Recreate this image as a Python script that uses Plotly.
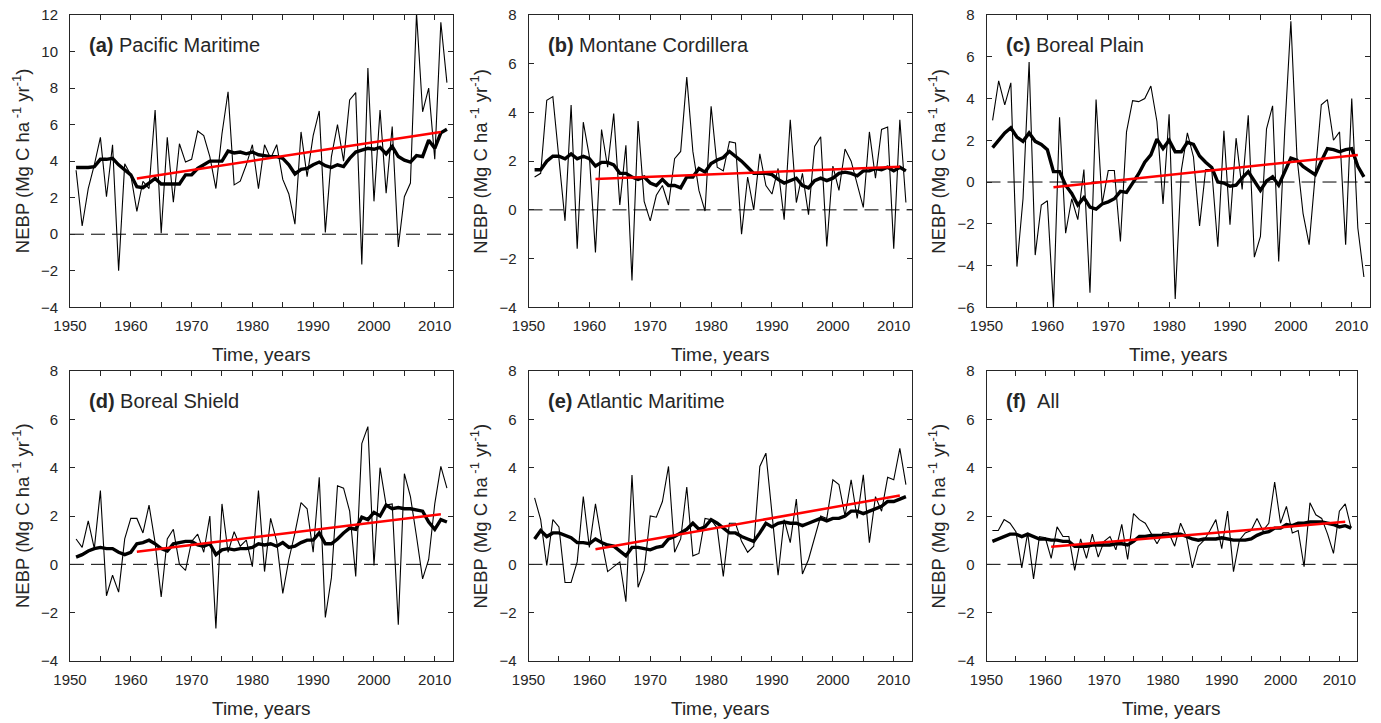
import plotly.graph_objects as go

# Years of the annual NEBP series
years = list(range(1951, 2013))
trend_years = [1961, 2011]

# (a) Pacific Maritime
pacific_annual = [3.5, 0.45, 2.5, 3.8, 5.3, 2.05, 4.9, -2.0, 3.85, 3.25,
                  1.25, 2.9, 2.5, 6.8, 0.05, 5.3, 1.75, 4.95, 3.95, 4.1,
                  5.65, 5.4, 4.25, 2.5, 5.5, 7.8, 2.7, 2.9, 3.8, 4.9,
                  2.5, 4.9, 4.15, 4.9, 3.0, 2.2, 0.55, 5.6, 3.15, 5.4,
                  6.75, 0.1, 4.25, 6.0, 4.0, 7.35, 7.75, -1.65, 9.1, 1.8,
                  6.8, 2.25, 5.9, -0.7, 2.05, 2.8, 12.1, 6.7, 8.0, 4.1,
                  11.6, 8.3]
pacific_smooth = [3.65, 3.65, 3.65, 3.7, 4.1, 4.1, 4.15, 3.8, 3.5, 3.25,
                  2.6, 2.55, 2.8, 3.05, 2.75, 2.75, 2.75, 2.75, 3.25, 3.25,
                  3.6, 3.8, 4.0, 4.0, 4.0, 4.55, 4.45, 4.5, 4.4, 4.5,
                  4.35, 4.3, 4.25, 4.25, 4.15, 3.8, 3.3, 3.55, 3.6, 3.8,
                  3.95, 3.75, 3.65, 3.8, 3.7, 4.15, 4.5, 4.6, 4.7, 4.65,
                  4.75, 4.4, 4.8, 4.25, 4.05, 3.95, 4.3, 4.25, 5.15, 4.7,
                  5.55, 5.75]
pacific_trend = [3.05, 5.6]

# (b) Montane Cordillera
montane_annual = [1.35, 1.5, 4.5, 4.65, 2.1, -0.45, 4.3, -1.6, 3.6, 2.2,
                  -1.75, 3.3, 1.75, 3.95, 0.2, 2.65, -2.9, 3.65, 0.35, -0.45,
                  0.6, 1.0, 0.2, 2.1, 2.4, 5.45, 2.4, 0.8, -0.05, 4.25,
                  1.75, 1.6, 2.8, 2.75, -1.0, 1.35, 0.0, 2.3, 1.0, 0.65,
                  1.7, -0.4, 3.7, 0.3, 1.5, -0.2, 2.6, 3.0, -1.5, 1.8,
                  0.8, 2.5, 2.0, 1.0, 0.1, 3.2, 1.3, 3.3, 3.4, -1.6,
                  3.7, 0.3]
montane_smooth = [1.65, 1.65, 2.0, 2.2, 2.2, 2.1, 2.3, 2.1, 2.2, 2.1,
                  1.8, 1.95, 1.95, 1.85, 1.5, 1.5, 1.35, 1.25, 1.35, 1.1,
                  1.0, 1.25, 1.0, 1.0, 0.9, 1.35, 1.35, 1.7, 1.55, 1.9,
                  2.05, 2.15, 2.4, 2.2, 2.0, 1.75, 1.5, 1.5, 1.5, 1.45,
                  1.25, 1.1, 1.2, 1.3, 1.0, 0.9, 1.2, 1.3, 1.2, 1.3,
                  1.5, 1.55, 1.5, 1.4, 1.6, 1.6, 1.7, 1.65, 1.75, 1.6,
                  1.75, 1.6]
montane_trend = [1.27, 1.77]

# (c) Boreal Plain
plain_annual = [2.95, 4.85, 3.7, 4.75, -4.05, -0.8, 5.75, -3.5, -1.1, -0.9,
                -6.0, 3.1, -2.45, -0.8, -1.8, 0.6, -5.3, 3.95, -1.05, 0.55,
                0.55, -2.85, 2.4, 3.9, 3.85, 4.0, 4.6, 2.9, -1.05, 3.25,
                -5.6, 0.55, 2.35, 1.2, -2.1, 0.6, 0.6, -3.1, 2.45, -2.05,
                2.1, -0.35, 3.2, -3.6, -2.6, 2.55, 3.65, -3.8, 2.5, 7.7,
                1.2, -1.5, -3.0, 0.5, 3.7, 3.95, 2.0, 2.4, -3.0, 4.0,
                -2.2, -4.55]
plain_smooth = [1.65, 2.0, 2.35, 2.6, 2.15, 1.95, 2.35, 1.95, 1.8, 1.55,
                0.5, 0.5, -0.15, -0.55, -1.1, -0.75, -1.2, -1.3, -1.05, -0.95,
                -0.8, -0.45, -0.5, -0.05, 0.4, 0.95, 1.3, 2.05, 1.6, 2.0,
                1.45, 1.45, 1.9, 1.8, 1.25, 0.95, 0.7, 0.0, -0.05, -0.2,
                -0.15, 0.2, 0.5, 0.05, -0.4, 0.05, 0.25, -0.15, 0.5, 1.15,
                1.05, 0.75, 0.55, 0.35, 1.0, 1.6, 1.55, 1.45, 1.55, 1.6,
                0.75, 0.25]
plain_trend = [-0.25, 1.3]

# (d) Boreal Shield
shield_annual = [1.05, 0.7, 1.8, 0.65, 3.05, -1.3, -0.45, -1.15, 1.05, 1.9,
                 1.9, 1.3, 2.45, 0.9, -1.35, 1.05, 1.45, 0.0, -0.25, 0.95,
                 1.25, 0.5, 2.0, -2.65, 2.5, 0.5, 1.35, 0.75, 1.0, -0.1,
                 3.05, -0.3, 1.9, 0.95, -1.2, 0.2, 1.3, 2.55, 2.3, 0.5,
                 3.6, -2.2, -0.55, 3.25, 3.15, 2.2, -0.5, 5.0, 5.7, -0.05,
                 4.0, 2.45, 2.5, -2.5, 3.75, 2.8, 1.15, -0.6, 0.2, 2.5,
                 4.05, 3.15]
shield_smooth = [0.3, 0.4, 0.55, 0.65, 0.7, 0.65, 0.65, 0.5, 0.4, 0.5,
                 0.85, 0.9, 1.0, 0.85, 0.65, 0.55, 0.85, 0.9, 0.95, 0.95,
                 0.8, 0.75, 0.85, 0.4, 0.6, 0.65, 0.6, 0.65, 0.65, 0.7,
                 0.85, 0.8, 0.85, 0.75, 0.9, 0.7, 0.75, 0.9, 1.0, 1.0,
                 1.3, 0.85, 0.85, 1.05, 1.3, 1.5, 1.45, 1.95, 1.85, 2.15,
                 2.0, 2.45, 2.3, 2.35, 2.3, 2.3, 2.25, 2.2, 1.75, 1.45,
                 1.85, 1.75]
shield_trend = [0.52, 2.07]

# (e) Atlantic Maritime
atlantic_annual = [2.75, 1.85, -0.05, 1.85, 1.55, -0.75, -0.75, 0.1, 2.8, 0.7,
                   2.5, 1.0, -0.3, -0.1, 0.1, -1.55, 3.7, -0.95, -0.25, 2.0,
                   1.95, 2.6, 4.05, 0.5, 1.05, 3.2, 0.35, 0.45, 1.9, 1.85,
                   1.5, -0.5, 1.7, 1.7, 0.95, 0.5, 0.75, 4.05, 4.6, 2.1,
                   -0.45, 1.85, 0.9, 2.7, -0.4, 0.2, 1.1, 2.0, 1.9, 3.5,
                   3.3, 2.0, 3.5, 1.9, 3.7, 0.9, 2.8, 2.2, 3.6, 3.5,
                   4.8, 3.3]
atlantic_smooth = [1.05, 1.4, 1.15, 1.3, 1.3, 1.2, 1.1, 0.9, 0.9, 0.85,
                   1.05, 0.9, 0.8, 0.75, 0.55, 0.35, 0.7, 0.7, 0.65, 0.6,
                   0.7, 0.75, 1.05, 1.15, 1.3, 1.45, 1.7, 1.45, 1.55, 1.85,
                   1.7, 1.5, 1.3, 1.3, 1.15, 1.05, 0.95, 1.3, 1.7, 1.55,
                   1.7, 1.75, 1.7, 1.7, 1.6, 1.7, 1.8, 1.9, 1.8, 1.9,
                   1.9, 2.0, 2.2, 2.2, 2.1, 2.2, 2.3, 2.4, 2.6, 2.6,
                   2.7, 2.8]
atlantic_trend = [0.62, 2.85]

# (f) All ecozones
all_annual = [1.4, 1.4, 1.85, 1.7, 1.35, -0.15, 1.3, -0.6, 1.15, 1.1,
              0.25, 1.55, 1.15, 1.15, -0.25, 1.05, 0.25, 1.25, 0.3, 0.95,
              1.15, 0.6, 1.65, 0.2, 2.1, 1.85, 1.7, 1.3, 0.85, 1.3,
              1.3, 0.75, 1.7, 1.15, -0.15, 0.75, 1.0, 1.4, 1.85, 0.65,
              2.2, -0.3, 1.0, 1.3, 1.4, 1.9, 1.4, 1.7, 3.4, 1.7,
              2.4, 1.3, 1.4, -0.1, 2.55, 2.05, 1.9, 1.25, 0.45, 2.2,
              2.5, 1.5]
all_smooth = [0.95, 1.05, 1.15, 1.25, 1.25, 1.15, 1.25, 1.15, 1.05, 1.05,
              1.0, 1.0, 0.95, 0.95, 0.75, 0.75, 0.75, 0.8, 0.8, 0.8,
              0.8, 0.85, 0.85, 0.8, 0.95, 1.15, 1.15, 1.2, 1.2, 1.2,
              1.2, 1.25, 1.25, 1.15, 1.05, 1.0, 1.05, 1.05, 1.05, 1.1,
              1.05, 1.0, 1.0, 1.0, 1.05, 1.2, 1.3, 1.35, 1.5, 1.5,
              1.65, 1.6, 1.7, 1.7, 1.75, 1.75, 1.75, 1.7, 1.65, 1.55,
              1.6, 1.5]
all_trend = [0.73, 1.76]

panels = [
    ("(a)", "Pacific Maritime", pacific_annual, pacific_smooth, pacific_trend, [-4, 12]),
    ("(b)", "Montane Cordillera", montane_annual, montane_smooth, montane_trend, [-4, 8]),
    ("(c)", "Boreal Plain", plain_annual, plain_smooth, plain_trend, [-6, 8]),
    ("(d)", "Boreal Shield", shield_annual, shield_smooth, shield_trend, [-4, 8]),
    ("(e)", "Atlantic Maritime", atlantic_annual, atlantic_smooth, atlantic_trend, [-4, 8]),
    ("(f)", "&nbsp;All", all_annual, all_smooth, all_trend, [-4, 8]),
]

W, H = 1381, 723
# pixel boxes of each axes: (left, right, top, bottom)
boxes = [
    (70, 453, 15, 307.3),
    (528.5, 912, 15, 307.3),
    (986.5, 1370, 15, 307.3),
    (70, 453, 371, 661),
    (528.5, 912, 371, 661),
    (986.5, 1357, 371, 661),
]

INK = "#262626"
FONT = "Liberation Sans"

fig = go.Figure()
layout_axes = {}
annotations = []
shapes = []

for i, ((tag, name, annual, smooth, trend, yr), (l, r, t, b)) in enumerate(zip(panels, boxes), start=1):
    xa = "x" if i == 1 else f"x{i}"
    ya = "y" if i == 1 else f"y{i}"

    fig.add_trace(go.Scatter(x=years, y=annual, mode="lines", xaxis=xa, yaxis=ya,
                             line=dict(color="black", width=1.1), showlegend=False,
                             hoverinfo="skip"))
    fig.add_trace(go.Scatter(x=years, y=smooth, mode="lines", xaxis=xa, yaxis=ya,
                             line=dict(color="black", width=3.4), showlegend=False,
                             hoverinfo="skip"))
    fig.add_trace(go.Scatter(x=trend_years, y=trend, mode="lines", xaxis=xa, yaxis=ya,
                             line=dict(color="#ff0000", width=2.5), showlegend=False,
                             hoverinfo="skip"))

    common = dict(showline=True, linecolor=INK, linewidth=1, mirror="allticks",
                  ticks="inside", ticklen=5, tickwidth=1, tickcolor=INK,
                  showgrid=False, zeroline=False,
                  tickfont=dict(family=FONT, size=15, color=INK))
    layout_axes["xaxis" if i == 1 else f"xaxis{i}"] = dict(
        common, domain=[l / W, r / W], anchor=ya, range=[1950, 2013],
        tickvals=list(range(1950, 2011, 10)),
        minor=dict(tickvals=list(range(1955, 2011, 10)), ticks="inside",
                   ticklen=5, tickcolor=INK, showgrid=False),
        ticklabelstandoff=5)
    layout_axes["yaxis" if i == 1 else f"yaxis{i}"] = dict(
        common, domain=[1 - b / H, 1 - t / H], anchor=xa, range=yr,
        tickvals=list(range(yr[0], yr[1] + 1, 2)), ticklabelstandoff=8)

    shapes.append(dict(type="line", xref=f"{xa} domain", x0=0, x1=1,
                       yref=ya, y0=0, y1=0, layer="below",
                       line=dict(color="black", width=1, dash="14px,7px")))

    annotations.append(dict(text=f"<b>{tag}</b> {name}", xref="paper", yref="paper",
                            x=(l + 17) / W, y=1 - (t + 30) / H, xanchor="left",
                            yanchor="middle", showarrow=False,
                            font=dict(family=FONT, size=20, color=INK)))
    annotations.append(dict(text="Time, years", xref="paper", yref="paper",
                            x=(l + r) / 2 / W, y=1 - (b + 47) / H, xanchor="center",
                            yanchor="middle", showarrow=False,
                            font=dict(family=FONT, size=19, color=INK)))
    annotations.append(dict(text="NEBP (Mg C ha<sup> -1</sup> yr<sup>-1</sup>)",
                            xref="paper", yref="paper", textangle=-90,
                            x=(l - 49) / W, y=1 - (t + b) / 2 / H, xanchor="center",
                            yanchor="middle", showarrow=False,
                            font=dict(family=FONT, size=18.5, color=INK)))

fig.update_layout(width=W, height=H,
                  margin=dict(l=0, r=0, t=0, b=0, autoexpand=False),
                  paper_bgcolor="white", plot_bgcolor="white",
                  annotations=annotations, shapes=shapes, **layout_axes)

fig.write_html("out.html")
